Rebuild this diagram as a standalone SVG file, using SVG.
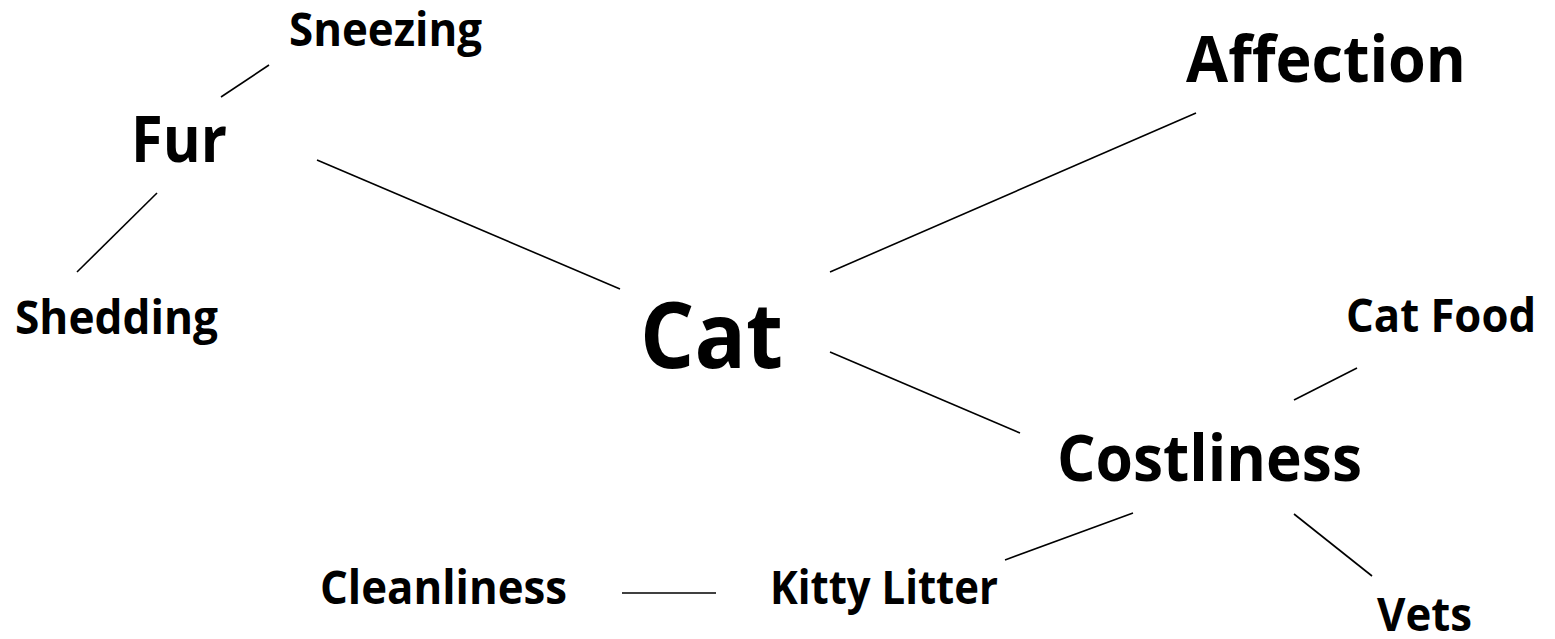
<svg xmlns="http://www.w3.org/2000/svg" width="1555" height="639" viewBox="0 0 1555 639">
<style>
text{font-family:"Open Sans","Liberation Sans",sans-serif;font-weight:bold;fill:#000}
.s{font-size:47px}
.m{font-size:65px}
.l{font-size:92px}
line{stroke:#000;stroke-width:1.6}
</style>
<rect width="1555" height="639" fill="#fff"/>
<g id="connectors">
<line x1="221" y1="97" x2="269" y2="65"/>
<line x1="157" y1="193" x2="77" y2="272"/>
<line x1="317" y1="160" x2="620" y2="289"/>
<line x1="830" y1="272" x2="1196" y2="113"/>
<line x1="830" y1="352" x2="1020" y2="433"/>
<line x1="1294" y1="400" x2="1357" y2="368"/>
<line x1="1133" y1="513" x2="1005" y2="560"/>
<line x1="1294" y1="514" x2="1372" y2="576"/>
<line x1="622" y1="593" x2="716" y2="593"/>
</g>
<g id="node-cat"><text class="l" x="640" y="368" textLength="143" lengthAdjust="spacingAndGlyphs">Cat</text></g>
<g id="node-fur"><text class="m" x="131" y="162" textLength="96" lengthAdjust="spacingAndGlyphs">Fur</text></g>
<g id="node-sneezing"><text class="s" x="289" y="46" textLength="193" lengthAdjust="spacingAndGlyphs">Sneezing</text></g>
<g id="node-shedding"><text class="s" x="15" y="334" textLength="203" lengthAdjust="spacingAndGlyphs">Shedding</text></g>
<g id="node-affection"><text class="m" x="1186" y="82" textLength="280" lengthAdjust="spacingAndGlyphs">Affection</text></g>
<g id="node-catfood"><text class="s" x="1346" y="332" textLength="190" lengthAdjust="spacingAndGlyphs">Cat Food</text></g>
<g id="node-costliness"><text class="m" x="1057" y="481" textLength="305" lengthAdjust="spacingAndGlyphs">Costliness</text></g>
<g id="node-kittylitter"><text class="s" x="770" y="604" textLength="228" lengthAdjust="spacingAndGlyphs">Kitty Litter</text></g>
<g id="node-cleanliness"><text class="s" x="320" y="604" textLength="247" lengthAdjust="spacingAndGlyphs">Cleanliness</text></g>
<g id="node-vets"><text class="s" x="1377" y="631" textLength="95" lengthAdjust="spacingAndGlyphs">Vets</text></g>
</svg>
